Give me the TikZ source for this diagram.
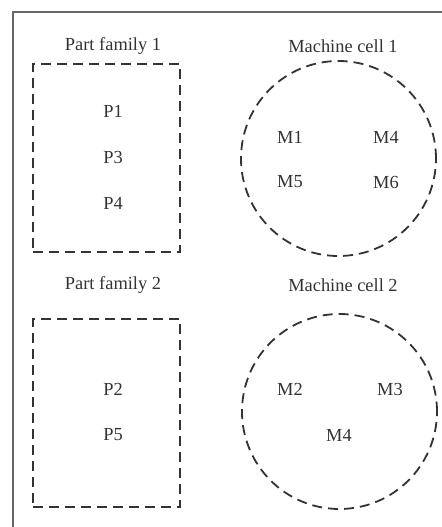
\documentclass[tikz,border=0pt]{standalone}
\usepackage{fontspec}
\setmainfont{Liberation Serif}
\usetikzlibrary{positioning}

\begin{document}
\begin{tikzpicture}[
    x=0.5pt, y=-0.5pt,
    font=\fontsize{9.2}{11}\selectfont,
    text=black!80,
    family/.style={rectangle, draw=black!80, line width=0.9pt, dash pattern=on 5pt off 3pt, minimum width=73.5pt, minimum height=94pt, inner sep=0pt},
    cell/.style={circle, draw=black!80, line width=0.9pt, dash pattern=on 5pt off 3pt, minimum size=97.5pt, inner sep=0pt},
    title/.style={inner sep=1pt}
]
    \useasboundingbox (0,0) rectangle (441,527);
    % outer frame, cut by the page on the right and at the bottom
    \draw[black!60, line width=1pt] (445,12) -- (13,12) -- (13,530);

    % part families
    \node[family] (fam1) at (106.5,158) {};
    \node[family] (fam2) at (106.5,413) {};
    \node[title] (famtitle1) at (113,46) {Part family 1};
    \node[title] (famtitle2) at (113,285) {Part family 2};
    \node (p1) at (113,111) {P1};
    \node (p3) at (113,157) {P3};
    \node (p4) at (113,203) {P4};
    \node (p2) at (113,389) {P2};
    \node (p5) at (113,435) {P5};

    % machine cells
    \node[cell] (cell1) at (338.5,158.5) {};
    \node[cell] (cell2) at (339.5,411.5) {};
    \node[title] (celltitle1) at (343,46) {Machine cell 1};
    \node[title] (celltitle2) at (343,285) {Machine cell 2};
    \node (m1) at (290,137) {M1};
    \node (m4) at (386,137) {M4};
    \node (m5) at (290,182) {M5};
    \node (m6) at (386,182) {M6};
    \node (m2) at (290,389) {M2};
    \node (m3) at (390,389) {M3};
    \node (m4b) at (339,435) {M4};
\end{tikzpicture}
\end{document}
